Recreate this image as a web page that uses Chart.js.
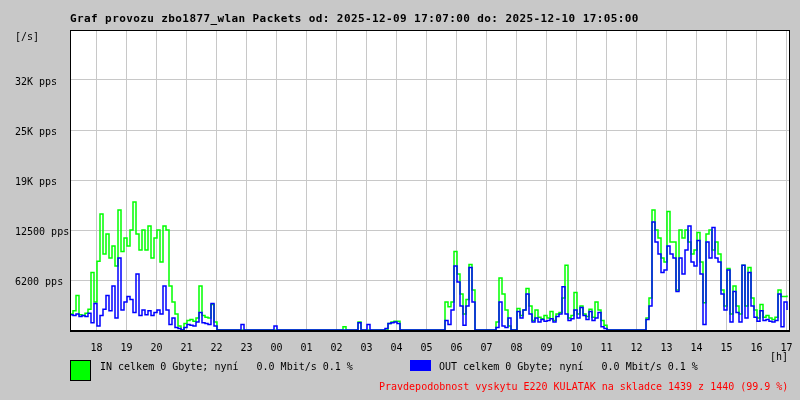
<!DOCTYPE html>
<html>
<head>
<meta charset="utf-8">
<script src="https://cdn.jsdelivr.net/npm/chart.js@4/dist/chart.umd.min.js"></script>
<style>
  html, body { margin: 0; padding: 0; background: #c8c8c8; }
  #wrap { position: relative; width: 800px; height: 400px; }
  #graf { position: absolute; left: 0; top: 0; }
  .t { position: absolute; font-family: "DejaVu Sans Mono", monospace; font-size: 10px; line-height: 10px; white-space: pre; color: #000; }
  .title { font-weight: bold; font-size: 11px; line-height: 12px; letter-spacing: 0.4px; }
  .box { position: absolute; box-sizing: border-box; }
</style>
</head>
<body>
<div id="wrap">
  <canvas id="graf" width="800" height="400"></canvas>
  <div class="t title" style="left:70px; top:13px;">Graf provozu zbo1877_wlan Packets od: 2025-12-09 17:07:00 do: 2025-12-10 17:05:00</div>
  <div class="t" style="left:15px; top:32px;">[/s]</div>
  <div class="t" style="left:770px; top:352px;">[h]</div>
  <div class="box" style="left:70px; top:360px; width:21px; height:21px; background:#00ff00; border:1px solid #000;"></div>
  <div class="t" style="left:100px; top:362px;">IN celkem 0 Gbyte; nyní   0.0 Mbit/s 0.1 %</div>
  <div class="box" style="left:410px; top:360px; width:21px; height:11px; background:#0000ff;"></div>
  <div class="t" style="left:439px; top:362px;">OUT celkem 0 Gbyte; nyní   0.0 Mbit/s 0.1 %</div>
  <div class="t" style="left:379px; top:382px; color:#ff0000;">Pravdepodobnost vyskytu E220 KULATAK na skladce 1439 z 1440 (99.9 %)</div>
</div>
<script>
// vzorky po 6 minutach od 17:07 (pps)
const SAMPLE_MIN = 6;

const hourLabels = ['18', '19', '20', '21', '22', '23', '00', '01', '02', '03', '04', '05',
                    '06', '07', '08', '09', '10', '11', '12', '13', '14', '15', '16', '17'];
const firstHourMin = 53; // 18:00 je 53 minut po 17:07

const yTickValues = [0, 6250, 12500, 18750, 25000, 31250, 37500];
const yTickLabels = ['', '6200 pps', '12500 pps', '19K pps', '25K pps', '32K pps', ''];

const inPps = [
  2000, 2400, 4300, 1900, 1800, 2100, 2600, 7200, 3500, 8600,
  14500, 9500, 12000, 9000, 10500, 8000, 15000, 9800, 11500, 10500,
  12500, 16000, 12000, 10000, 12500, 10000, 13000, 9000, 11500, 12500,
  8500, 13000, 12500, 5500, 3500, 2000, 500, 0, 800, 1200,
  1300, 1100, 1500, 5500, 1800, 1600, 1500, 3200, 1000, 0,
  0, 0, 0, 0, 0, 0, 0, 0, 0, 0,
  0, 0, 0, 0, 0, 0, 0, 0, 0, 0,
  0, 0, 0, 0, 0, 0, 0, 0, 0, 0,
  0, 0, 0, 0, 0, 0, 0, 0, 0, 0,
  0, 400, 0, 0, 0, 0, 1000, 0, 0, 0,
  0, 0, 0, 0, 0, 0, 800, 1000, 1100, 1100,
  0, 0, 0, 0, 0, 0, 0, 0, 0, 0,
  0, 0, 0, 0, 0, 3500, 2900, 3500, 9800, 7000,
  4500, 2000, 3800, 8200, 5000, 0, 0, 0, 0, 0,
  0, 0, 1000, 6500, 4500, 2500, 500, 0, 0, 2700,
  1800, 2500, 5200, 3000, 1200, 2500, 1600, 1400, 1800, 1500,
  2300, 1200, 2000, 2200, 4000, 8100, 1500, 1800, 4700, 2000,
  3000, 2000, 1700, 2600, 1600, 3500, 2500, 1200, 600, 0,
  0, 0, 0, 0, 0, 0, 0, 0, 0, 0,
  0, 0, 1500, 4000, 15000, 12500, 11500, 9000, 8500, 14800,
  11000, 11000, 5000, 12500, 11500, 12500, 11000, 9500, 10000, 12200,
  8500, 3400, 12000, 12500, 10000, 11000, 9500, 5000, 3000, 7700,
  2000, 5500, 3000, 2000, 8100, 3000, 7800, 4000, 2500, 1500,
  3200, 1600, 1800, 1500, 1300, 1600, 5000, 4200, 4200, 4300
];

const outPps = [
  1900, 1800, 2000, 1700, 1800, 1700, 2100, 900, 3300, 500,
  1800, 2600, 4300, 2400, 5500, 1500, 9000, 2500, 3500, 4200,
  3800, 2200, 7000, 1800, 2500, 1900, 2400, 1800, 2200, 2500,
  2000, 5500, 2500, 700, 1500, 300, 200, 0, 300, 700,
  600, 500, 1000, 2200, 900, 800, 700, 3300, 500, 0,
  0, 0, 0, 0, 0, 0, 0, 700, 0, 0,
  0, 0, 0, 0, 0, 0, 0, 0, 500, 0,
  0, 0, 0, 0, 0, 0, 0, 0, 0, 0,
  0, 0, 0, 0, 0, 0, 0, 0, 0, 0,
  0, 0, 0, 0, 0, 0, 900, 0, 0, 700,
  0, 0, 0, 0, 0, 200, 800, 900, 1000, 800,
  0, 0, 0, 0, 0, 0, 0, 0, 0, 0,
  0, 0, 0, 0, 0, 1200, 700, 2500, 8000, 6000,
  3000, 600, 3000, 7800, 3500, 0, 0, 0, 0, 0,
  0, 0, 300, 3500, 500, 300, 1500, 0, 0, 2300,
  1500, 2500, 4500, 2000, 1000, 1500, 1000, 1300, 1100, 1200,
  1400, 1000, 1700, 2000, 5400, 2000, 1200, 1400, 2500, 1500,
  2800, 1800, 1300, 2300, 1200, 1500, 2200, 400, 200, 0,
  0, 0, 0, 0, 0, 0, 0, 0, 0, 0,
  0, 0, 1300, 3000, 13500, 11000, 9500, 7200, 7500, 10500,
  9500, 9000, 4800, 9000, 7000, 10000, 13000, 8500, 8000, 11200,
  7000, 700, 11000, 9000, 12800, 9000, 8500, 4500, 2500, 7500,
  1000, 4800, 2200, 1000, 8100, 1500, 7200, 3000, 1600, 1100,
  2400, 1200, 1300, 1100, 1000, 1200, 4500, 400, 3500, 2500
];

const toPoints = arr => arr.map((v, i) => ({ x: i * SAMPLE_MIN, y: v }));

// bila plocha grafu + ramecek
const plotFrame = {
  id: 'plotFrame',
  beforeDraw(chart) {
    const a = chart.chartArea;
    const ctx = chart.ctx;
    ctx.save();
    ctx.fillStyle = '#ffffff';
    ctx.fillRect(a.left, a.top, a.right - a.left, a.bottom - a.top);
    ctx.restore();
  },
  afterDatasetsDraw(chart) {
    const a = chart.chartArea;
    const ctx = chart.ctx;
    ctx.save();
    ctx.strokeStyle = '#000';
    ctx.lineWidth = 1;
    ctx.strokeRect(Math.round(a.left) + 0.5, Math.round(a.top) + 0.5,
                   Math.round(a.right - a.left) - 1, Math.round(a.bottom - a.top));
    ctx.fillStyle = '#000';
    ctx.fillRect(a.left, a.bottom, a.right - a.left, 2);
    ctx.restore();
  }
};

const monoFont = { family: '"DejaVu Sans Mono", monospace', size: 10 };

new Chart(document.getElementById('graf').getContext('2d'), {
  type: 'line',
  data: {
    datasets: [
      {
        label: 'IN',
        data: toPoints(inPps),
        borderColor: '#00ff00',
        borderWidth: 1.5,
        stepped: true,
        pointRadius: 0,
        fill: false,
        order: 2
      },
      {
        label: 'OUT',
        data: toPoints(outPps),
        borderColor: '#0000ff',
        borderWidth: 1.5,
        stepped: true,
        pointRadius: 0,
        fill: false,
        order: 1
      }
    ]
  },
  options: {
    responsive: false,
    animation: false,
    layout: { padding: { left: 15, top: 30, right: 10, bottom: 0 } },
    plugins: {
      legend: { display: false },
      tooltip: { enabled: false }
    },
    scales: {
      x: {
        type: 'linear',
        min: 0,
        max: 1440,
        afterBuildTicks(scale) {
          scale.ticks = hourLabels.map((_, k) => ({ value: firstHourMin + 60 * k }));
        },
        afterFit(scale) {
          scale.height = 70;
          scale.paddingLeft = 0;
          scale.paddingRight = 0;
        },
        grid: { color: '#c8c8c8', lineWidth: 1, drawTicks: false },
        border: { display: false },
        ticks: {
          color: '#000',
          font: monoFont,
          padding: 12,
          maxRotation: 0,
          autoSkip: false,
          callback: (v, i) => hourLabels[i]
        }
      },
      y: {
        min: 0,
        max: 37500,
        afterBuildTicks(scale) {
          scale.ticks = yTickValues.map(v => ({ value: v }));
        },
        afterFit(scale) {
          scale.width = 55;
          scale.paddingTop = 0;
          scale.paddingBottom = 0;
        },
        grid: { color: '#c8c8c8', lineWidth: 1, drawTicks: false },
        border: { display: false },
        ticks: {
          color: '#000',
          font: monoFont,
          crossAlign: 'far',
          labelOffset: 2,
          autoSkip: false,
          callback: (v, i) => yTickLabels[i]
        }
      }
    }
  },
  plugins: [plotFrame]
});
</script>
</body>
</html>
